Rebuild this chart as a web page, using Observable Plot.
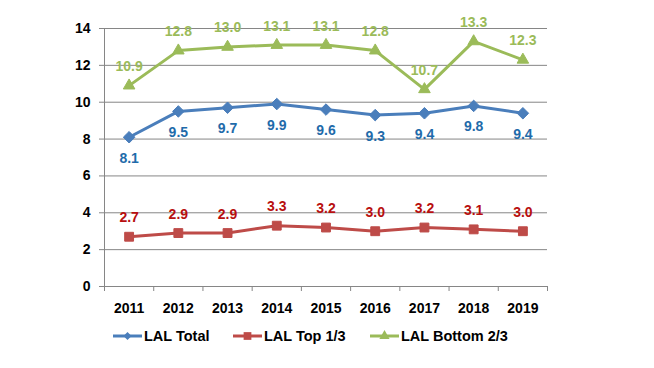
<!DOCTYPE html>
<html><head><meta charset="utf-8">
<script src="https://cdn.jsdelivr.net/npm/d3@7"></script>
<script src="https://cdn.jsdelivr.net/npm/@observablehq/plot@0.6"></script>
<style>
body{margin:0;background:#fff;font-family:"Liberation Sans",Arial,sans-serif;}
#wrap{position:relative;width:654px;height:368px;overflow:hidden;}
#legend{position:absolute;left:0;top:320px;width:654px;height:48px;}
.item{position:absolute;top:8px;height:16px;display:flex;align-items:center;font-weight:bold;font-size:14.5px;color:#000;white-space:nowrap;}
.item svg{display:block;margin-right:2px;}
</style>
</head><body><div id="wrap"><div id="chart"></div><div id="legend"></div></div>
<script>
const years = [2011, 2012, 2013, 2014, 2015, 2016, 2017, 2018, 2019];
const lalTotal = [8.1, 9.5, 9.7, 9.9, 9.6, 9.3, 9.4, 9.8, 9.4];
const lalTop = [2.7, 2.9, 2.9, 3.3, 3.2, 3.0, 3.2, 3.1, 3.0];
const lalBottom = [10.9, 12.8, 13.0, 13.1, 13.1, 12.8, 10.7, 13.3, 12.3];
const yTicks = [0, 2, 4, 6, 8, 10, 12, 14];
const seriesNames = ["LAL Total", "LAL Top 1/3", "LAL Bottom 2/3"];

const lineColors = ["#4A7EBB", "#BE4B48", "#9BBB59"];
const labelColors = ["#1F6BAA", "#B80F0F", "#9BBB59"];
const symbols = ["diamond2", "square", "triangle"];
const gray = "#868686";

const series = [lalTotal, lalTop, lalBottom].map((vals, s) =>
  years.map((yr, i) => ({year: yr, value: vals[i], series: seriesNames[s]})));

const bounds = years.map(y => y - 0.5).concat([years[years.length - 1] + 0.5]);

const marks = [
  Plot.gridY(yTicks.filter(d => d > 0), {stroke: gray, strokeOpacity: 1, strokeWidth: 1}),
  Plot.ruleY([0], {stroke: gray}),
  Plot.ruleX([bounds[0]], {stroke: gray}),
  Plot.axisY(yTicks, {tickSize: 5, tickPadding: 9, stroke: gray, fill: "#000", fontWeight: "bold", fontSize: 14, label: null, tickFormat: d => String(d)}),
  Plot.axisX(bounds, {tickSize: 5, stroke: gray, tickFormat: () => "", label: null}),
  Plot.axisX(years, {tickSize: 0, tickPadding: 17, fill: "#000", fontWeight: "bold", fontSize: 14, label: null, tickFormat: d => String(d)})
];
const rs = [5.2, 5.0, 4.3];
const dys = [21, -19, -19];
series.forEach((rows, s) => {
  marks.push(Plot.line(rows, {x: "year", y: "value", stroke: lineColors[s], strokeWidth: 3}));
  marks.push(Plot.dot(rows, {x: "year", y: "value", symbol: symbols[s], fill: lineColors[s], stroke: lineColors[s], strokeWidth: 1, r: rs[s]}));
  marks.push(Plot.text(rows, {x: "year", y: "value", text: d => d.value.toFixed(1), dy: dys[s], fill: labelColors[s], fontWeight: "bold", fontSize: 14}));
});

const chart = Plot.plot({
  width: 654, height: 320,
  marginLeft: 104, marginRight: 107, marginTop: 28, marginBottom: 34,
  x: {type: "linear", domain: [bounds[0], bounds[bounds.length - 1]]},
  y: {domain: [0, 14]},
  style: {fontFamily: "'Liberation Sans', Arial, sans-serif", fontSize: "14px", background: "#fff", overflow: "visible"},
  marks
});
document.getElementById("chart").appendChild(chart);

// legend
const legend = document.getElementById("legend");
const lefts = [113, 233, 370];
const symPaths = [
  d3.symbol(d3.symbolDiamond2, 40)(),
  d3.symbol(d3.symbolSquare, 60)(),
  d3.symbol(d3.symbolTriangle, 45)()
];
seriesNames.forEach((name, s) => {
  const it = document.createElement("div");
  it.className = "item";
  it.style.left = lefts[s] + "px";
  it.innerHTML = `<svg width="29" height="16"><line x1="0" x2="29" y1="8" y2="8" stroke="${lineColors[s]}" stroke-width="3"/><path transform="translate(14.5,8)" d="${symPaths[s]}" fill="${lineColors[s]}"/></svg><span>${name}</span>`;
  legend.appendChild(it);
});
</script>
</body></html>
